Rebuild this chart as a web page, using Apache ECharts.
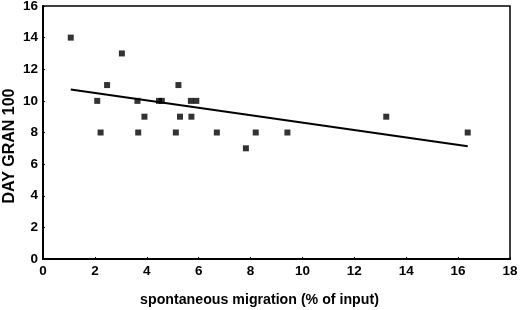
<!DOCTYPE html>
<html>
<head>
<meta charset="utf-8">
<script src="https://cdn.jsdelivr.net/npm/echarts@6/dist/echarts.min.js"></script>
<style>
  html, body { margin: 0; padding: 0; background: #fff; }
  #chart { width: 520px; height: 310px; }
</style>
</head>
<body>
<div id="chart"></div>
<script>
// spontaneous migration (% of input) vs DAY GRAN 100
var migration = [1.07, 2.09, 2.22, 2.47, 3.04, 3.64, 3.67, 3.91, 4.47, 4.58, 5.12, 5.22, 5.28, 5.70, 5.72, 5.91, 6.70, 7.82, 8.20, 9.42, 13.23, 16.37];
var dayGran = [14, 10, 8, 11, 13, 10, 8, 9, 10, 10, 8, 11, 9, 10, 9, 10, 8, 7, 8, 8, 9, 8];
// fitted trend line end points
var trendX = [1.07, 16.37];
var trendY = [10.72, 7.13];
var yTitle = 'DAY GRAN 100';
var xTitle = 'spontaneous migration (% of input)';

var points = migration.map(function (x, i) { return [x, dayGran[i]]; });
var trend = trendX.map(function (x, i) { return [x, trendY[i]]; });

var labelStyle = {
  color: '#000',
  fontFamily: 'Liberation Sans, Arial, sans-serif',
  fontWeight: 'bold',
  fontSize: 13.5
};

var chart = echarts.init(document.getElementById('chart'));
chart.setOption({
  animation: false,
  backgroundColor: '#fff',
  grid: {
    left: 43, right: 10, top: 6, bottom: 51,
    outerBoundsMode: 'none',
    show: true,
    borderColor: '#000',
    borderWidth: 1.5,
    backgroundColor: 'transparent'
  },
  // y title sits a bit below the plot middle in the original
  graphic: [{
    type: 'text',
    x: 10, y: 146,
    rotation: Math.PI / 2,
    style: {
      text: yTitle,
      fill: '#000',
      font: 'bold 16px "Liberation Sans", Arial, sans-serif',
      align: 'center',
      verticalAlign: 'middle'
    }
  }],
  xAxis: {
    type: 'value',
    min: 0, max: 18, interval: 2,
    name: xTitle,
    nameLocation: 'middle',
    nameGap: 34,
    nameTextStyle: Object.assign({}, labelStyle, {fontSize: 14.2, padding: [0, 34, 0, 0]}),
    axisLine: {lineStyle: {color: '#000', width: 2}},
    axisTick: {show: true, inside: true, length: 2, lineStyle: {color: '#000'}},
    axisLabel: Object.assign({}, labelStyle, {margin: 5}),
    splitLine: {show: false}
  },
  yAxis: {
    type: 'value',
    min: 0, max: 16, interval: 2,
    axisLine: {show: true, lineStyle: {color: '#000', width: 2}},
    axisTick: {show: true, inside: true, length: 2, lineStyle: {color: '#000'}},
    axisLabel: Object.assign({}, labelStyle, {margin: 5}),
    splitLine: {show: false}
  },
  series: [
    {
      type: 'scatter',
      data: points,
      symbol: 'rect',
      symbolSize: 6,
      itemStyle: {color: '#000'}
    },
    {
      type: 'line',
      data: trend,
      symbol: 'none',
      lineStyle: {color: '#000', width: 2}
    }
  ]
});
</script>
</body>
</html>
